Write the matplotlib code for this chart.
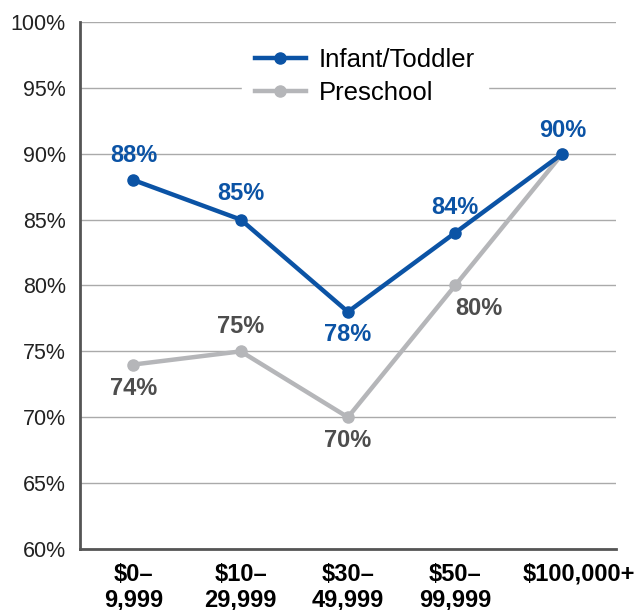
import matplotlib.pyplot as plt
from matplotlib.transforms import ScaledTranslation

plt.rcParams['font.family'] = ['Liberation Sans', 'DejaVu Sans']

categories = ['$0–\n9,999', '$10–\n29,999', '$30–\n49,999', '$50–\n99,999', '$100,000+']
infant_toddler = [88, 85, 78, 84, 90]
preschool = [74, 75, 70, 80, 90]
y_ticks = [60, 65, 70, 75, 80, 85, 90, 95, 100]

blue = '#0b53a5'
gray = '#b5b6b9'
label_gray = '#4d4d4d'

fig = plt.figure(figsize=(6.39, 6.10), dpi=100)
ax = fig.add_axes([0.125, 0.1, 0.839, 0.864])

x = list(range(len(categories)))
ax.plot(x, preschool, color=gray, linewidth=3.2, marker='o', markersize=8, label='Preschool', zorder=3)
ax.plot(x, infant_toddler, color=blue, linewidth=3.2, marker='o', markersize=8, label='Infant/Toddler', zorder=4)

# label offsets (points): above or below the marker
infant_offsets = [(0, 18), (0, 18.5), (0, -16.5), (0, 18.5), (0, 17)]
for i, v in enumerate(infant_toddler):
    ax.annotate('{}%'.format(v), (i, v), xytext=infant_offsets[i], textcoords='offset points',
                ha='center', va='center', color=blue, fontsize=17, fontweight='bold', zorder=5)

preschool_offsets = [(0, -17), (0, 18), (0, -17), (17, -16.5), None]
for i, v in enumerate(preschool):
    if preschool_offsets[i] is None:
        continue
    ax.annotate('{}%'.format(v), (i, v), xytext=preschool_offsets[i], textcoords='offset points',
                ha='center', va='center', color=label_gray, fontsize=17, fontweight='bold', zorder=5)

ax.set_xlim(-0.5, 4.5)
ax.set_ylim(60, 100)
ax.set_yticks(y_ticks)
ax.set_yticklabels(['{}%'.format(t) for t in y_ticks], fontsize=15.5, color='#222222')
ax.set_xticks(x)
ax.set_xticklabels(categories, fontsize=17, fontweight='bold', color='black', linespacing=1.12)
ax.tick_params(axis='y', length=0, pad=10)
ax.tick_params(axis='x', length=0, pad=10)

# last category label sits a bit to the right in the original
last = ax.get_xticklabels()[-1]
last.set_transform(last.get_transform() + ScaledTranslation(12 / 72, 0, fig.dpi_scale_trans))

ax.grid(axis='y', color='#aaaaaa', linewidth=1)
ax.set_axisbelow(True)
for side in ['top', 'right']:
    ax.spines[side].set_visible(False)
for side in ['left', 'bottom']:
    ax.spines[side].set_color('#555555')
    ax.spines[side].set_linewidth(2)

handles, labels = ax.get_legend_handles_labels()
leg = ax.legend(handles[::-1], labels[::-1], loc='upper left', bbox_to_anchor=(0.278, 1.0),
                frameon=True, fontsize=18.5, handlelength=2.0, handletextpad=0.5,
                labelspacing=0.36, borderpad=0.5, framealpha=1, fancybox=False)
leg.get_frame().set_edgecolor('white')
leg.get_frame().set_facecolor('white')
leg.set_zorder(2)

fig.savefig('out.png', dpi=100)
